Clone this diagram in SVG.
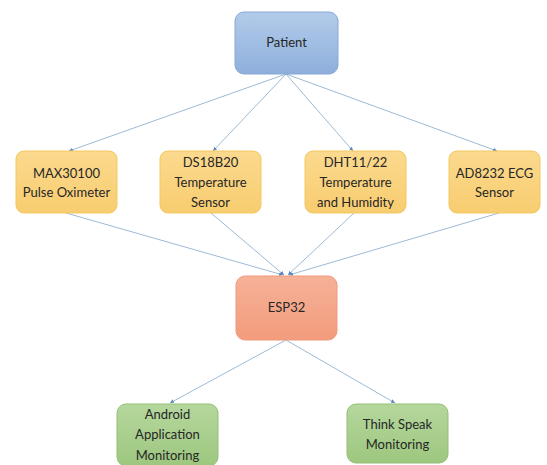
<svg xmlns="http://www.w3.org/2000/svg" width="547" height="465" viewBox="0 0 547 465">
<defs>
<linearGradient id="gBlue" x1="0" y1="0" x2="0" y2="1"><stop offset="0" stop-color="#b3cbea"/><stop offset="1" stop-color="#8eafdc"/></linearGradient>
<linearGradient id="gOrange" x1="0" y1="0" x2="0" y2="1"><stop offset="0" stop-color="#fbd98e"/><stop offset="1" stop-color="#f8cd70"/></linearGradient>
<linearGradient id="gRed" x1="0" y1="0" x2="0" y2="1"><stop offset="0" stop-color="#f6b198"/><stop offset="1" stop-color="#f29c7c"/></linearGradient>
<linearGradient id="gGreen" x1="0" y1="0" x2="0" y2="1"><stop offset="0" stop-color="#b5d79d"/><stop offset="1" stop-color="#9dc77f"/></linearGradient>
<marker id="arr" markerWidth="5" markerHeight="5" refX="4" refY="2.5" orient="auto" markerUnits="userSpaceOnUse">
<path d="M0,0.5 L4,2.5 L0,4.5 z" fill="#5b86be"/>
</marker>
<style>
.box{stroke-width:1}
.blue{fill:url(#gBlue);stroke:#88a8d4}
.orange{fill:url(#gOrange);stroke:#f3c862}
.red{fill:url(#gRed);stroke:#ee9a7c}
.green{fill:url(#gGreen);stroke:#93bf74}
.t{font-family:Lato,"Liberation Sans",sans-serif;font-size:13px;fill:#262626;text-anchor:middle}
.c{stroke:#9dbad6;stroke-width:1;fill:none;marker-end:url(#arr)}
</style>
</defs>
<rect width="547" height="465" fill="#ffffff"/>
<g id="connectors">
<line class="c" x1="286" y1="74" x2="69" y2="151"/>
<line class="c" x1="286" y1="74" x2="213" y2="151"/>
<line class="c" x1="286" y1="74" x2="353" y2="151"/>
<line class="c" x1="286" y1="74" x2="497" y2="151"/>
<line class="c" x1="66" y1="213" x2="283" y2="275"/>
<line class="c" x1="211" y1="213" x2="284" y2="275"/>
<line class="c" x1="354" y1="213" x2="288" y2="275"/>
<line class="c" x1="499" y1="213" x2="289" y2="275"/>
<line class="c" x1="286" y1="340" x2="170" y2="403"/>
<line class="c" x1="286" y1="340" x2="395" y2="403"/>
</g>
<g id="patient">
<rect class="box blue" x="235" y="12" width="103" height="62" rx="9"/>
<text class="t" x="286.5" y="47">Patient</text>
</g>
<g id="max30100">
<rect class="box orange" x="16" y="151" width="101" height="62" rx="8"/>
<text class="t" x="66.5" y="178">MAX30100</text>
<text class="t" x="66.5" y="197">Pulse Oximeter</text>
</g>
<g id="ds18b20">
<rect class="box orange" x="160" y="151" width="101" height="62" rx="8"/>
<text class="t" x="210.5" y="167">DS18B20</text>
<text class="t" x="210.5" y="187">Temperature</text>
<text class="t" x="210.5" y="207">Sensor</text>
</g>
<g id="dht11">
<rect class="box orange" x="305" y="151" width="101" height="62" rx="8"/>
<text class="t" x="355.5" y="167">DHT11/22</text>
<text class="t" x="355.5" y="187">Temperature</text>
<text class="t" x="355.5" y="207">and Humidity</text>
</g>
<g id="ad8232">
<rect class="box orange" x="449" y="151" width="91" height="62" rx="8"/>
<text class="t" x="494.5" y="178">AD8232 ECG</text>
<text class="t" x="494.5" y="197">Sensor</text>
</g>
<g id="esp32">
<rect class="box red" x="236" y="276" width="101" height="64" rx="9"/>
<text class="t" x="286.5" y="312">ESP32</text>
</g>
<g id="android">
<rect class="box green" x="117" y="404" width="101" height="62" rx="9"/>
<text class="t" x="167.5" y="419">Android</text>
<text class="t" x="167.5" y="439">Application</text>
<text class="t" x="167.5" y="460">Monitoring</text>
</g>
<g id="thinkspeak">
<rect class="box green" x="347" y="404" width="101" height="59" rx="9"/>
<text class="t" x="397.5" y="429">Think Speak</text>
<text class="t" x="397.5" y="449">Monitoring</text>
</g>
</svg>
